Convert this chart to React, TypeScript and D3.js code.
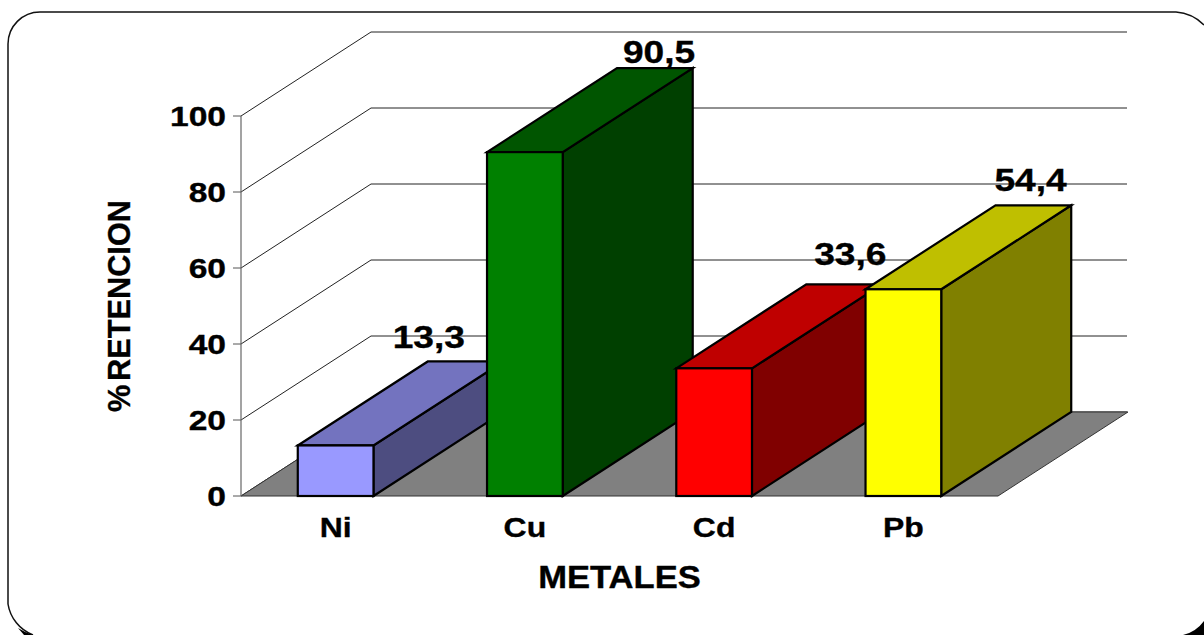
import React from "react";
import * as d3 from "d3";

// Retention percentage per metal
const metals = ["Ni", "Cu", "Cd", "Pb"];
const retention = [13.3, 90.5, 33.6, 54.4];
const valueLabels = ["13,3", "90,5", "33,6", "54,4"];
const axisTicks = [0, 20, 40, 60, 80, 100];

// Face colours of each column: front, top, side
const frontColours = ["#9999ff", "#008000", "#ff0000", "#ffff00"];
const topColours = ["#7373bf", "#005500", "#bf0000", "#bfbf00"];
const sideColours = ["#4d4d80", "#004000", "#800000", "#808000"];

// Hand-placed value labels, relative to the back-left corner of each column top
const labelNudgeX = [1, 42, 44, 35];
const labelNudgeY = [-13, -5, -19, -14];

const WIDTH = 1204;
const HEIGHT = 635;
const DEPTH_X = 130;
const DEPTH_Y = -84;
const FONT = "'Liberation Sans', Arial, sans-serif";

const x = d3
  .scaleBand<string>()
  .domain(metals)
  .range([241, 998])
  .paddingInner(0.6)
  .paddingOuter(0.3);
const y = d3.scaleLinear().domain([0, 100]).range([496, 116]);

const poly = (pts: [number, number][]) => {
  const line = d3.line();
  return line(pts) + "Z";
};

function Label(props: {
  x: number;
  y: number;
  size: number;
  sx: number;
  anchor: string;
  children: React.ReactNode;
}) {
  return (
    <text
      transform={`translate(${props.x},${props.y}) scale(${props.sx},1)`}
      fontFamily={FONT}
      fontWeight="bold"
      fontSize={props.size}
      textAnchor={props.anchor}
      fill="#000"
      stroke="#000"
      strokeWidth={0.35}
    >
      {props.children}
    </text>
  );
}

export default function App() {
  const y0 = y(0);
  const [xMin, xMax] = x.range();
  return (
    <svg
      width={WIDTH}
      height={HEIGHT}
      viewBox={`0 0 ${WIDTH} ${HEIGHT}`}
      style={{ position: "fixed", left: 0, top: 0, display: "block" }}
    >
      <rect width={WIDTH} height={HEIGHT} fill="#fff" />

      {/* Rounded frame, running off the right and bottom edges */}
      <path
        d="M1204,25 A44,44 0 0 0 1176,12 L40,12 A32,32 0 0 0 8,44 L8,604 A40,40 0 0 0 33,635"
        fill="none"
        stroke="#111"
        strokeWidth={1.5}
      />
      <path d="M18,628 Q24,632 33,635 L24,635 Z" fill="#000" />
      <path d="M1204,621 A36,36 0 0 1 1183,635 L1204,635 Z" fill="#000" />

      {/* Back wall and side wall grid */}
      {axisTicks.map((t) => (
        <path
          key={t}
          d={`M${xMin},${y(t)} L${xMin + DEPTH_X},${y(t) + DEPTH_Y} L${xMax + DEPTH_X - 1},${y(t) + DEPTH_Y}`}
          fill="none"
          stroke="#222"
          strokeWidth={1}
        />
      ))}

      {/* Floor */}
      <path
        d={poly([
          [xMin, y0],
          [xMin + DEPTH_X, y0 + DEPTH_Y],
          [xMax + DEPTH_X, y0 + DEPTH_Y],
          [xMax, y0],
        ])}
        fill="#808080"
        stroke="#333"
        strokeWidth={1}
      />

      {/* Value axis */}
      <line x1={xMin} x2={xMin} y1={y(100)} y2={y0} stroke="#666" strokeWidth={1.2} />
      {axisTicks.map((t) => (
        <g key={t}>
          <line x1={xMin - 8} x2={xMin} y1={y(t)} y2={y(t)} stroke="#555" strokeWidth={1} />
          <Label x={226} y={y(t) + 10} size={28} sx={1.2} anchor="end">
            {t}
          </Label>
        </g>
      ))}

      {/* Columns, left to right so later ones cover earlier side faces */}
      {metals.map((m, i) => {
        const x0 = x(m)!;
        const x1 = x0 + x.bandwidth();
        const top = y(retention[i]);
        return (
          <g key={m} stroke="#000" strokeWidth={2.2} strokeLinejoin="miter">
            <path
              d={poly([
                [x1, y0],
                [x1 + DEPTH_X, y0 + DEPTH_Y],
                [x1 + DEPTH_X, top + DEPTH_Y],
                [x1, top],
              ])}
              fill={sideColours[i]}
            />
            <path
              d={poly([
                [x0, top],
                [x0 + DEPTH_X, top + DEPTH_Y],
                [x1 + DEPTH_X, top + DEPTH_Y],
                [x1, top],
              ])}
              fill={topColours[i]}
            />
            <rect x={x0} y={top} width={x.bandwidth()} height={y0 - top} fill={frontColours[i]} />
          </g>
        );
      })}

      {/* Category names */}
      {metals.map((m) => (
        <Label key={m} x={x(m)! + x.bandwidth() / 2} y={537} size={28} sx={1.14} anchor="middle">
          {m}
        </Label>
      ))}

      {/* Value labels */}
      {metals.map((m, i) => (
        <Label
          key={m}
          x={x(m)! + DEPTH_X + labelNudgeX[i]}
          y={y(retention[i]) + DEPTH_Y + labelNudgeY[i]}
          size={32}
          sx={1.16}
          anchor="middle"
        >
          {valueLabels[i]}
        </Label>
      ))}

      {/* Axis titles */}
      <Label x={619.5} y={588} size={31} sx={1.115} anchor="middle">
        METALES
      </Label>
      <text
        transform="translate(130,306) rotate(-90)"
        fontFamily={FONT}
        fontWeight="bold"
        fontSize={31.5}
        textAnchor="middle"
        textLength={212}
        lengthAdjust="spacingAndGlyphs"
        wordSpacing={-5}
        fill="#000"
        stroke="#000"
        strokeWidth={0.35}
      >
        % RETENCION
      </text>
    </svg>
  );
}
